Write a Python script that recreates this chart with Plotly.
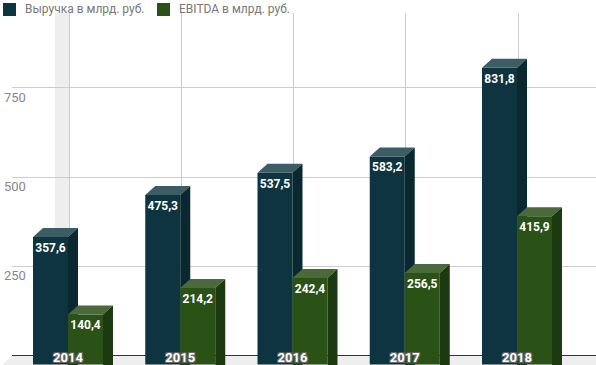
import plotly.graph_objects as go

# ---- data ----
years = ["2014", "2015", "2016", "2017", "2018"]
revenue = [357.6, 475.3, 537.5, 583.2, 831.8]
ebitda = [140.4, 214.2, 242.4, 256.5, 415.9]
series_names = ["Выручка в млрд. руб.", "EBITDA в млрд. руб."]
y_tick_vals = [250, 500, 750]
y_tick_text = ["250", "500", "750"]

# ---- styling / geometry constants (pixels) ----
W, H = 596, 365
PXX = 112.25      # px per category
CX0 = 68.0        # px of first category centre (front)
Y0F = 364.5       # px (from top) of zero on front plane
PYU = 0.3567      # px per value unit
DX, DY = 10.0, 9.0  # 3D depth
BACK_LEFT, BACK_TOP = 12.0, 13.0
BACK_CX0 = 69.0
Y0B = Y0F - DY
BAR_PX = 35.0
LABEL_DROP_PX = 6.0

rev_cols = dict(front="#0e3440", top="#3c5d63", side="#0a2830")
ebi_cols = dict(front="#2a5217", top="#4b6a3c", side="#1b3a0f")

dxu = DX / PXX
dyu = DY / PYU
bw = BAR_PX / PXX
idx = list(range(len(years)))


def faces(lefts, vals):
    tx, ty, sx, sy = [], [], [], []
    for xl, v in zip(lefts, vals):
        xr = xl + bw
        tx += [xl, xr, xr + dxu, xl + dxu, xl, None]
        ty += [v, v, v + dyu, v + dyu, v, None]
        sx += [xr, xr, xr + dxu, xr + dxu, xr, None]
        sy += [-40, v, v + dyu, -40 + dyu, -40, None]
    return tx, ty, sx, sy


def fmt(v):
    return f"{v:.1f}".replace(".", ",")


fig = go.Figure()

# back-wall dummy trace to activate grid subplot
fig.add_trace(go.Scatter(x=[0], y=[0], mode="markers", marker=dict(opacity=0),
                         xaxis="x", yaxis="y", showlegend=False, hoverinfo="skip"))

for vals, cols, sign, xa, ya in [(revenue, rev_cols, -1, "x2", "y2"),
                                  (ebitda, ebi_cols, 0, "x3", "y3")]:
    lefts = [i + sign * bw for i in idx]
    centers = [l + bw / 2 for l in lefts]
    fig.add_trace(go.Bar(x=centers, y=vals, width=bw, marker=dict(color=cols["front"], line=dict(width=0)),
                         xaxis=xa, yaxis=ya, showlegend=False, hoverinfo="skip"))
    tx, ty, sx, sy = faces(lefts, vals)
    fig.add_trace(go.Scatter(x=tx, y=ty, mode="lines", fill="toself", fillcolor=cols["top"],
                             line=dict(width=0, color=cols["top"]), xaxis=xa, yaxis=ya,
                             showlegend=False, hoverinfo="skip"))
    fig.add_trace(go.Scatter(x=sx, y=sy, mode="lines", fill="toself", fillcolor=cols["side"],
                             line=dict(width=0, color=cols["side"]), xaxis=xa, yaxis=ya,
                             showlegend=False, hoverinfo="skip"))
    fig.add_trace(go.Scatter(x=centers, y=[v - LABEL_DROP_PX / PYU for v in vals], mode="text",
                             text=[fmt(v) for v in vals],
                             textposition="bottom center",
                             textfont=dict(family="Roboto", size=12, color="white", weight="bold"),
                             xaxis=xa, yaxis=ya, showlegend=False, hoverinfo="skip"))

front_x_range = [-CX0 / PXX, (W - CX0) / PXX]
front_y_range = [-(H - Y0F) / PYU, Y0F / PYU]
back_bottom_px = 357.0

fig.update_layout(
    width=W, height=H,
    margin=dict(l=0, r=0, t=0, b=0, pad=0),
    paper_bgcolor="white", plot_bgcolor="rgba(0,0,0,0)",
    separators=", ",
    showlegend=False,
    font=dict(family="Roboto", size=12, color="#777777"),
    xaxis=dict(domain=[BACK_LEFT / W, 1], range=[(BACK_LEFT - BACK_CX0) / PXX, (W - BACK_CX0) / PXX],
               tickvals=idx, showticklabels=False, showgrid=True, gridcolor="#cccccc", gridwidth=1,
               zeroline=False, showline=False, ticks="", fixedrange=True),
    yaxis=dict(domain=[(H - back_bottom_px) / H, (H - BACK_TOP) / H],
               range=[-(back_bottom_px - Y0B) / PYU, (Y0B - BACK_TOP) / PYU],
               tickvals=y_tick_vals, ticktext=y_tick_text, showgrid=True, gridcolor="#cccccc", gridwidth=1,
               zeroline=True, zerolinecolor="#333333", zerolinewidth=1,
               anchor="free", position=0.0, ticklabelposition="inside bottom",
               tickfont=dict(family="Roboto", size=13, color="#888888"), ticks="", showline=False,
               fixedrange=True),
    xaxis2=dict(domain=[0, 1], range=front_x_range, anchor="y2", tickvals=idx, ticktext=years,
                ticklabelposition="inside", ticks="", showgrid=False, zeroline=False, showline=False,
                ticklabelstandoff=-3,
                tickfont=dict(family="Roboto", size=13, color="white", weight="bold",
                              shadow="-1px -1px 0 #666, 1px -1px 0 #666, -1px 1px 0 #666, 1px 1px 0 #666"),
                fixedrange=True),
    yaxis2=dict(domain=[0, 1], range=front_y_range, anchor="x2", visible=False, fixedrange=True),
    xaxis3=dict(overlaying="x2", range=front_x_range, anchor="y3", visible=False, fixedrange=True),
    yaxis3=dict(overlaying="y2", range=front_y_range, anchor="x3", visible=False, fixedrange=True),
)

# floor (3D base) and hover-cursor strip
fl = BACK_LEFT
floor_path = (f"M {fl / W},{(H - Y0B) / H} L 1,{(H - Y0B) / H} L 1,0 "
              f"L {(fl - DX) / W},0 Z")
fig.add_shape(type="path", path=floor_path, xref="paper", yref="paper",
              fillcolor="#eeeeee", line=dict(width=0), layer="below")
fig.add_shape(type="rect", xref="x", yref="y", x0=-14 / PXX, x1=0, y0=0,
              y1=(Y0B - BACK_TOP) / PYU, fillcolor="#eeeeee", line=dict(width=0), layer="below")

# custom legend
leg_x = [3, 157]
for name, col, lx in zip(series_names, [rev_cols["front"], ebi_cols["front"]], leg_x):
    fig.add_shape(type="rect", xref="paper", yref="paper",
                  x0=lx / W, x1=(lx + 13) / W, y0=(H - 16) / H, y1=(H - 3) / H,
                  fillcolor=col, line=dict(width=0))
    fig.add_annotation(x=(lx + 20) / W, y=(H - 9.5) / H, xref="paper", yref="paper",
                       text=name, showarrow=False, xanchor="left", yanchor="middle",
                       font=dict(family="Roboto", size=12, color="#777777"))

fig.write_html("out.html", config={"displayModeBar": False},
               post_script="document.body.style.margin='0';document.body.style.overflow='hidden';")
